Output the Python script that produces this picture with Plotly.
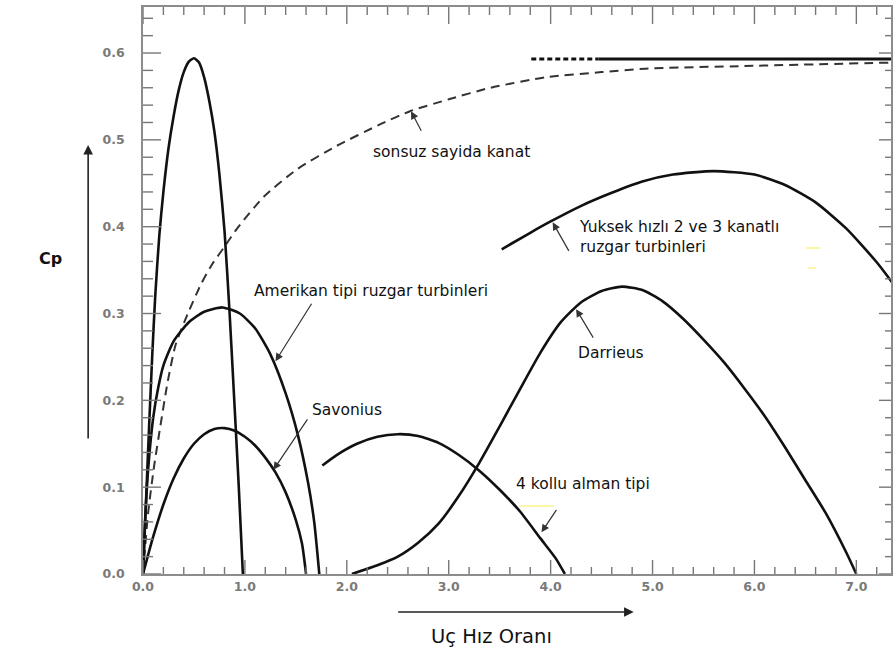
import plotly.graph_objects as go

# Güç katsayısı (Cp) eğrileri – uç hız oranına göre
betz_cp = 0.593
betz_dotted_x = [3.81, 4.47]
betz_solid_x = [4.47, 7.35]

sonsuz_x = [0.0, 0.05, 0.11, 0.17, 0.24, 0.32, 0.44, 0.57, 0.68, 0.80, 0.93, 1.19, 1.51,
            1.90, 2.33, 2.62, 3.01, 3.41, 3.95, 4.50, 4.93, 5.90, 7.35]
sonsuz_y = [0.0, 0.07, 0.125, 0.17, 0.22, 0.264, 0.30, 0.334, 0.357, 0.377, 0.399, 0.435, 0.466,
            0.493, 0.518, 0.533, 0.547, 0.560, 0.572, 0.578, 0.582, 0.585, 0.589]

tepe_x = [0.0, 0.03, 0.06, 0.09, 0.12, 0.16, 0.20, 0.25, 0.30, 0.35, 0.40, 0.45, 0.50,
          0.55, 0.60, 0.65, 0.70, 0.75, 0.80, 0.85, 0.90, 0.94, 0.98]
tepe_y = [0.0, 0.085, 0.17, 0.25, 0.32, 0.39, 0.44, 0.49, 0.527, 0.557, 0.578, 0.590, 0.594,
          0.589, 0.572, 0.545, 0.510, 0.460, 0.395, 0.300, 0.190, 0.100, 0.0]

amerikan_x = [0.0, 0.02, 0.05, 0.10, 0.15, 0.20, 0.30, 0.45, 0.60, 0.78, 0.95, 1.10,
              1.25, 1.40, 1.52, 1.62, 1.68, 1.73]
amerikan_y = [0.0, 0.06, 0.12, 0.18, 0.215, 0.24, 0.268, 0.290, 0.302, 0.307, 0.300, 0.283,
              0.253, 0.208, 0.160, 0.105, 0.060, 0.0]

savonius_x = [0.0, 0.05, 0.10, 0.20, 0.30, 0.40, 0.50, 0.60, 0.70, 0.80, 0.90, 1.00,
              1.10, 1.20, 1.30, 1.40, 1.50, 1.56, 1.60]
savonius_y = [0.0, 0.022, 0.043, 0.080, 0.110, 0.133, 0.150, 0.161, 0.167, 0.168, 0.165, 0.158,
              0.148, 0.134, 0.117, 0.094, 0.062, 0.035, 0.0]

alman_x = [1.76, 1.90, 2.10, 2.30, 2.50, 2.70, 2.90, 3.10, 3.30, 3.50, 3.70, 3.90, 4.05, 4.14]
alman_y = [0.125, 0.137, 0.150, 0.158, 0.161, 0.159, 0.151, 0.137, 0.119, 0.097, 0.072, 0.041,
           0.018, 0.0]

darrieus_x = [2.05, 2.30, 2.50, 2.70, 2.90, 3.10, 3.30, 3.50, 3.70, 3.90, 4.10, 4.30, 4.50,
              4.70, 4.90, 5.10, 5.30, 5.50, 5.70, 5.90, 6.10, 6.30, 6.50, 6.70, 6.90, 7.00]
darrieus_y = [0.0, 0.010, 0.020, 0.036, 0.058, 0.090, 0.128, 0.170, 0.213, 0.255, 0.290, 0.313,
              0.326, 0.331, 0.327, 0.314, 0.294, 0.270, 0.244, 0.214, 0.182, 0.146, 0.108,
              0.070, 0.025, 0.0]

yuksek_x = [3.52, 3.80, 4.00, 4.30, 4.60, 4.90, 5.20, 5.60, 6.00, 6.30, 6.60, 6.90, 7.20, 7.35]
yuksek_y = [0.374, 0.393, 0.406, 0.424, 0.439, 0.452, 0.460, 0.464, 0.460, 0.448, 0.428, 0.398,
            0.359, 0.336]

x_ticks = [0, 1, 2, 3, 4, 5, 6, 7]
x_tick_labels = ["0.0", "1.0", "2.0", "3.0", "4.0", "5.0", "6.0", "7.0"]
y_ticks = [0.0, 0.1, 0.2, 0.3, 0.4, 0.5, 0.6]
y_tick_labels = ["0.0", "0.1", "0.2", "0.3", "0.4", "0.5", "0.6"]
x_minor_step = 0.2
y_minor_step = 0.02

W, H = 893, 650
ML, MR, MT, MB = 143, 0, 7, 76
X_MAX = 7.34
Y_MAX = 0.653

INK = "#111111"
FRAME = "#8c8c8c"
TICK = "#777777"
TXT_FONT = "DejaVu Sans"


def px(xp, yp):
    """Pixel position in the figure -> paper coordinates."""
    return (xp - ML) / (W - ML - MR), (H - MB - yp) / (H - MT - MB)


fig = go.Figure()

curve = dict(mode="lines", line=dict(color=INK, width=2.6, shape="spline", smoothing=0.6),
             hoverinfo="skip")

fig.add_trace(go.Scatter(x=betz_dotted_x, y=[betz_cp] * 2, mode="lines",
                         line=dict(color=INK, width=3, dash="5px,3px"), hoverinfo="skip"))
fig.add_trace(go.Scatter(x=betz_solid_x, y=[betz_cp] * 2, mode="lines",
                         line=dict(color=INK, width=3), hoverinfo="skip"))
fig.add_trace(go.Scatter(x=sonsuz_x, y=sonsuz_y, mode="lines",
                         line=dict(color="#333333", width=2, dash="9px,6px",
                                   shape="spline", smoothing=0.6), hoverinfo="skip"))
for xs, ys in [(tepe_x, tepe_y), (amerikan_x, amerikan_y), (savonius_x, savonius_y),
               (alman_x, alman_y), (darrieus_x, darrieus_y), (yuksek_x, yuksek_y)]:
    fig.add_trace(go.Scatter(x=xs, y=ys, **curve))

annotations = []

# Pointer arrows from labels to curves (head in data units, tail as pixel offset)
pointers = [
    (2.63, 0.533, 11, 21),
    (4.02, 0.405, 17, 30),
    (1.30, 0.245, 37, -59),
    (1.28, 0.120, 35, -52),
    (4.25, 0.305, 18, 30),
    (3.91, 0.048, 16, -24),
]
for hx, hy, ax, ay in pointers:
    annotations.append(dict(x=hx, y=hy, xref="x", yref="y", ax=ax, ay=ay, text="",
                            showarrow=True, arrowhead=2, arrowsize=1.3, arrowwidth=1.2,
                            arrowcolor="#333333", standoff=0))

labels = [
    ("sonsuz sayida kanat", 372, 152),
    ("Yuksek hızlı 2 ve 3 kanatlı<br>ruzgar turbinleri", 578, 237),
    ("Amerikan tipi ruzgar turbinleri", 252, 291),
    ("Savonius", 310, 410),
    ("Darrieus", 577, 353),
    ("4 kollu alman tipi", 515, 484),
]
for txt, lx, ly in labels:
    xp, yp = px(lx, ly)
    annotations.append(dict(x=xp, y=yp, xref="paper", yref="paper", text=txt,
                            showarrow=False, xanchor="left", yanchor="middle", align="left",
                            font=dict(family=TXT_FONT, size=15.5, color=INK)))

# Axis titles with their direction arrows
hx, hy = px(88, 145)
annotations.append(dict(x=hx, y=hy, xref="paper", yref="paper", ax=0, ay=295, text="",
                        showarrow=True, arrowhead=2, arrowsize=1.2, arrowwidth=1.6,
                        arrowcolor="#222222", standoff=0))
hx, hy = px(635, 612)
annotations.append(dict(x=hx, y=hy, xref="paper", yref="paper", ax=-237, ay=0, text="",
                        showarrow=True, arrowhead=2, arrowsize=1.2, arrowwidth=1.6,
                        arrowcolor="#222222", standoff=0))
cx, cy = px(50, 258)
annotations.append(dict(x=cx, y=cy, xref="paper", yref="paper", text="<b>Cp</b>",
                        showarrow=False, xanchor="center", yanchor="middle",
                        font=dict(family=TXT_FONT, size=16, color=INK)))
tx, ty = px(492, 636)
annotations.append(dict(x=tx, y=ty, xref="paper", yref="paper", text="Uç Hız Oranı",
                        showarrow=False, xanchor="center", yanchor="middle",
                        font=dict(family=TXT_FONT, size=19.5, color=INK)))

shapes = []

# Inward tick marks on all four sides of the frame
tick_line = dict(color=TICK, width=1.4)


def x_tick(xv, length, top):
    return dict(type="line", xref="x", yref="y domain", ysizemode="pixel",
                yanchor=1 if top else 0, x0=xv, x1=xv, y0=0, y1=-length if top else length,
                line=tick_line, layer="above")


def y_tick(yv, length, right):
    return dict(type="line", yref="y", xref="x domain", xsizemode="pixel",
                xanchor=1 if right else 0, y0=yv, y1=yv, x0=0, x1=-length if right else length,
                line=tick_line, layer="above")


n_xm = int(round(X_MAX / x_minor_step))
for i in range(n_xm + 1):
    xv = round(i * x_minor_step, 6)
    if xv > X_MAX:
        break
    major = any(abs(xv - t) < 1e-6 for t in x_ticks)
    shapes.append(x_tick(xv, 14 if major else 7, top=False))
    shapes.append(x_tick(xv, 17 if major else 8, top=True))

n_ym = int(round(Y_MAX / y_minor_step))
for i in range(n_ym + 1):
    yv = round(i * y_minor_step, 6)
    if yv > Y_MAX:
        break
    major = any(abs(yv - t) < 1e-6 for t in y_ticks)
    shapes.append(y_tick(yv, 18 if major else 10, right=False))
    shapes.append(y_tick(yv, 12 if major else 6, right=True))

# faint yellow specks in the drawing
for (x0, y0, x1, y1) in [(520, 506, 555, 506), (808, 248, 822, 248), (810, 268, 818, 268)]:
    a0, b0 = px(x0, y0)
    a1, b1 = px(x1, y1)
    shapes.append(dict(type="line", xref="paper", yref="paper", x0=a0, y0=b0, x1=a1, y1=b1,
                       line=dict(color="#fbf6a8", width=2)))

tick_font = dict(family=TXT_FONT, size=12.5, color="#7a7a7a", weight="bold")

fig.update_layout(
    width=W, height=H,
    margin=dict(l=ML, r=MR, t=MT, b=MB, pad=0),
    paper_bgcolor="white", plot_bgcolor="white",
    showlegend=False,
    annotations=annotations,
    shapes=shapes,
    xaxis=dict(range=[0, X_MAX], tickmode="array", tickvals=x_ticks, ticktext=x_tick_labels,
               showgrid=False, zeroline=False, showline=True, linecolor=FRAME, linewidth=1.5,
               mirror=True, ticks="", tickfont=tick_font, fixedrange=True),
    yaxis=dict(range=[0, Y_MAX], tickmode="array", tickvals=y_ticks, ticktext=y_tick_labels,
               showgrid=False, zeroline=False, showline=True, linecolor=FRAME, linewidth=1.5,
               mirror=True, ticks="", tickfont=tick_font, ticklabelstandoff=14,
               fixedrange=True),
)

fig.write_html("out.html")
